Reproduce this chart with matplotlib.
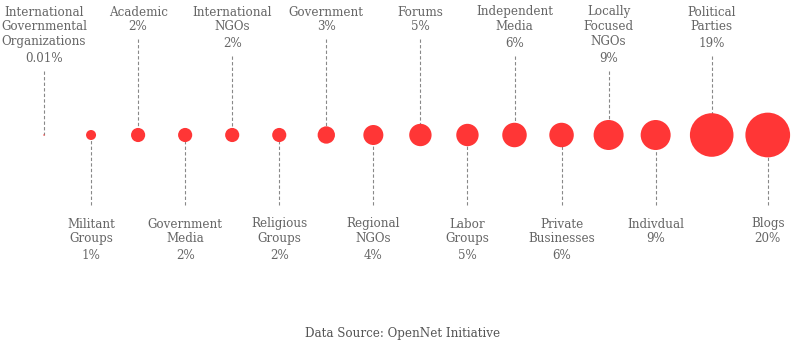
import matplotlib
matplotlib.use("Agg")
import matplotlib.pyplot as plt
from matplotlib.patches import Circle
import numpy as np

categories = ["International\nGovernmental\nOrganizations", "Militant\nGroups", "Academic",
              "Government\nMedia", "International\nNGOs", "Religious\nGroups", "Government",
              "Regional\nNGOs", "Forums", "Labor\nGroups", "Independent\nMedia",
              "Private\nBusinesses", "Locally\nFocused\nNGOs", "Indivdual",
              "Political\nParties", "Blogs"]
shares = [0.01, 1, 2, 2, 2, 2, 3, 4, 5, 5, 6, 6, 9, 9, 19, 20]

# layout (pixel coordinates)
W, H = 806, 353
cy = 135
step = 47.05
x0 = 44
extra = [0]*14 + [9, 18]
xs = [x0 + step*i + extra[i] for i in range(len(shares))]
kr = 5.0
red = "#FF3636"
gray = "#666666"
font = "DejaVu Serif"
fs = 8.6
lh = 14.8

fig = plt.figure(figsize=(W/100, H/100), dpi=100)
ax = fig.add_axes([0, 0, 1, 1])
ax.set_xlim(0, W)
ax.set_ylim(H, 0)
ax.axis("off")

for i, (name, v, x) in enumerate(zip(categories, shares, xs)):
    r = kr*np.sqrt(v)
    lines = name.split("\n")
    n = len(lines)
    pct = f"{v:g}%"
    gap = 17 if n > 1 else 15
    if i % 2 == 0:
        ytop = 12
        for j, l in enumerate(lines):
            ax.text(x, ytop + j*lh, l, ha="center", va="center", fontsize=fs,
                    family=font, color=gray)
        ypct = ytop + (n-1)*lh + gap
        ax.text(x, ypct, pct, ha="center", va="center", fontsize=fs,
                family=font, color=gray)
        ax.plot([x, x], [ypct + 12, cy], color="#888888", lw=0.8,
                ls=(0, (3, 2)), zorder=1)
    else:
        ytop = 224
        for j, l in enumerate(lines):
            ax.text(x, ytop + j*lh, l, ha="center", va="center", fontsize=fs,
                    family=font, color=gray)
        ypct = ytop + (n-1)*lh + gap
        ax.text(x, ypct, pct, ha="center", va="center", fontsize=fs,
                family=font, color=gray)
        ax.plot([x, x], [cy, 207], color="#888888", lw=0.8,
                ls=(0, (3, 2)), zorder=1)
    ax.add_patch(Circle((x, cy), max(r, 0.7), color=red, zorder=3, lw=0))

ax.text(W/2, 333, "Data Source: OpenNet Initiative", ha="center", va="center",
        fontsize=fs, family=font, color="#555555")

fig.savefig("out.png", dpi=100)
